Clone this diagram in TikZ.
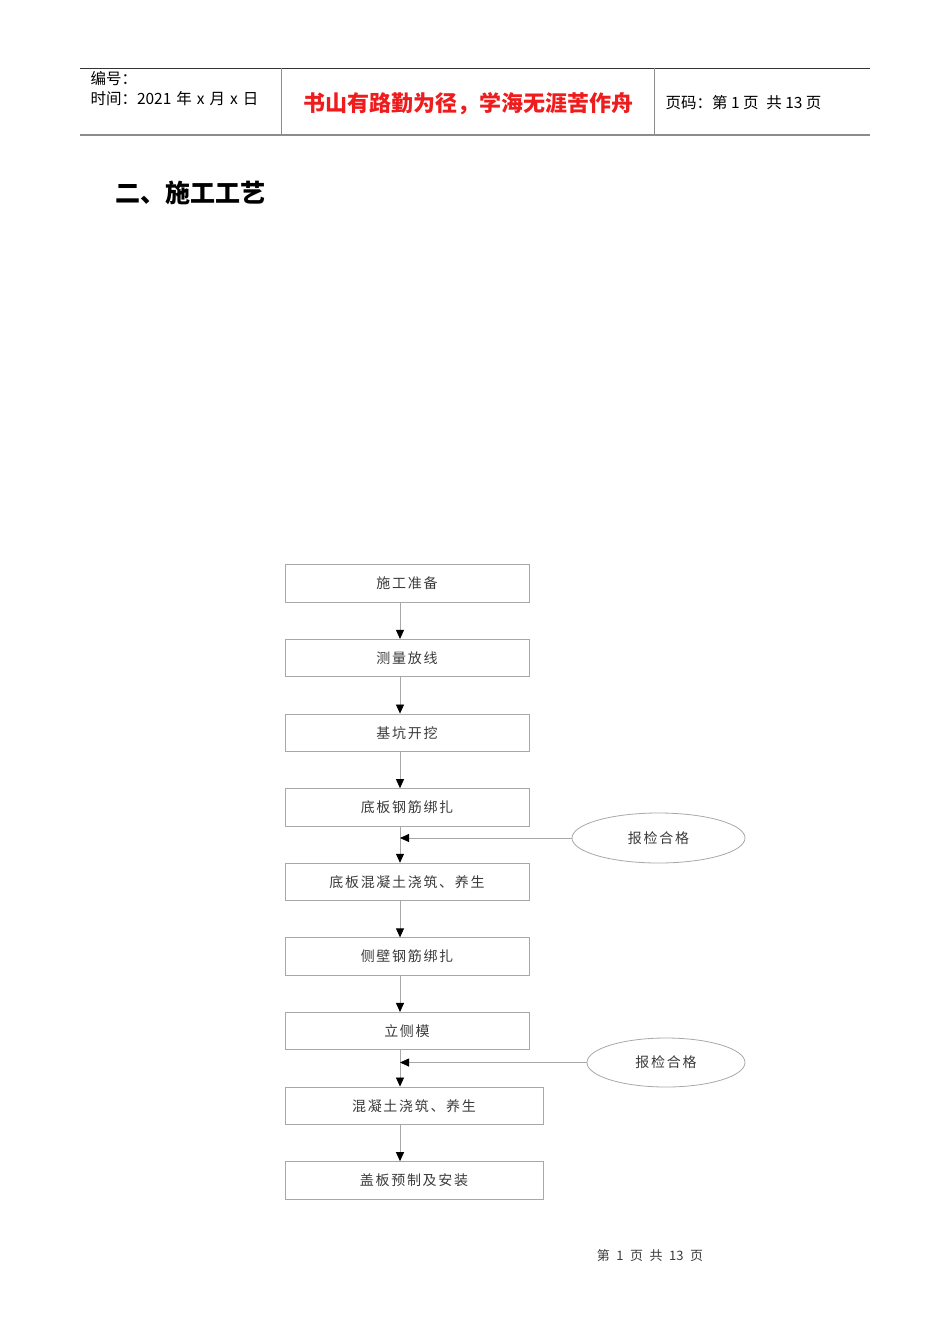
\documentclass[tikz,border=0pt]{standalone}
\usepackage{fontspec}
\setmainfont{Noto Sans CJK SC}
\newfontfamily\boxfont[LetterSpace=12]{Noto Sans CJK SC}
\usetikzlibrary{arrows.meta,positioning,shapes.geometric}
\definecolor{linegray}{HTML}{A8A8A8}
\definecolor{textgray}{HTML}{3A3A3A}
\definecolor{mottored}{HTML}{EE1C1C}

\begin{document}
\begin{tikzpicture}[x=1pt,y=-1pt,
  stepbox/.style={draw=linegray,line width=0.8pt,minimum width=244pt,minimum height=37.5pt,inner sep=0pt,
    font=\boxfont\fontsize{14}{16}\selectfont,text=textgray},
  widebox/.style={stepbox,minimum width=258pt},
  checkbox/.style={ellipse,draw=linegray,line width=0.8pt,inner sep=0pt,
    font=\boxfont\fontsize{14}{16}\selectfont,text=textgray},
  flow/.style={draw=linegray,line width=0.8pt,-{Triangle[color=black,length=9pt,width=8pt]}},
  headtext/.style={anchor=west,font=\fontsize{15.5}{17}\selectfont}]
\useasboundingbox (0,0) rectangle (950,1344);

% header
\draw[line width=0.8pt,black!80] (80,68) -- (870,68);
\draw[line width=1.8pt,black!45] (80,135) -- (870,135);
\draw[line width=0.8pt,black!45] (281,68) -- (281,135);
\draw[line width=0.8pt,black!45] (654,68) -- (654,135);
\node[headtext] (serial) at (87,79) {编号：};
\node[headtext] (date) at (87,99) {时间：2021\hspace{5pt}年\hspace{5pt}x\hspace{5pt}月\hspace{5pt}x\hspace{5pt}日};
\node[font=\bfseries\fontsize{22}{25}\selectfont,text=mottored] (motto) at (468,104) {书山有路勤为径，学海无涯苦作舟};
\node[headtext] (pageno) at (662,103) {页码：第 1 页\enspace 共 13 页};

% title
\node[anchor=west,font=\bfseries\fontsize{25}{28}\selectfont] (title) at (112,193) {二、施工工艺};

% flow chart
\coordinate (axis) at (400,0);
\node[stepbox] (prep) at (407,583.5) {施工准备};
\node[stepbox,below=36.3pt of prep] (survey) {测量放线};
\node[stepbox,below=36.3pt of survey] (dig) {基坑开挖};
\node[stepbox,below=36.3pt of dig] (baserebar) {底板钢筋绑扎};
\node[stepbox,below=36.3pt of baserebar] (basepour) {底板混凝土浇筑、养生};
\node[stepbox,below=36.3pt of basepour] (wallrebar) {侧壁钢筋绑扎};
\node[stepbox,below=36.3pt of wallrebar] (mold) {立侧模};
\node[widebox,below=36.3pt of mold.south west,anchor=north west] (pour) {混凝土浇筑、养生};
\node[widebox,below=36.3pt of pour] (cover) {盖板预制及安装};

\foreach \a/\b in {prep/survey,survey/dig,dig/baserebar,baserebar/basepour,basepour/wallrebar,
  wallrebar/mold,mold/pour,pour/cover}
  \draw[flow] (\a.south -| axis) -- (\b.north -| axis);

% inspections
\node[checkbox,minimum width=173pt,minimum height=50pt] (check1) at (658.5,838) {报检合格};
\draw[flow] (check1.west) -- (check1.west -| axis);
\node[checkbox,minimum width=158pt,minimum height=49pt] (check2) at (666,1062.5) {报检合格};
\draw[flow] (check2.west) -- (check2.west -| axis);

% footer
\node[font=\fontsize{13}{15}\selectfont,text=textgray] (footer) at (650,1256) {第\enspace 1\enspace 页\enspace 共\enspace 13\enspace 页};
\end{tikzpicture}
\end{document}
